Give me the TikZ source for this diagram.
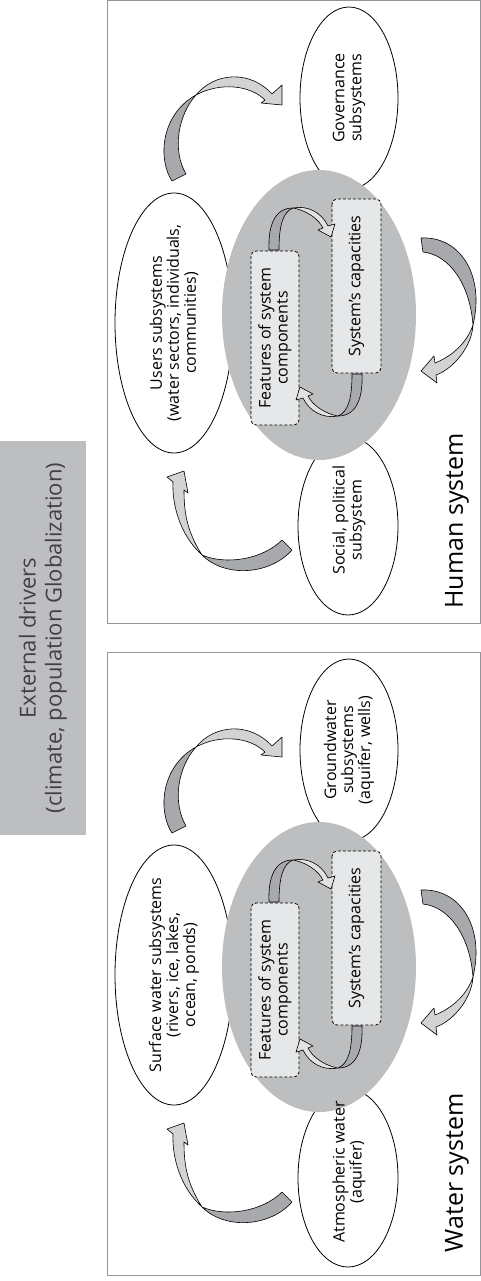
\documentclass[tikz,border=0pt]{standalone}
\usepackage{fontspec}
\setmainfont{Open Sans}
\usetikzlibrary{shapes.geometric}

\definecolor{hubgray}{HTML}{BCBEC0}
\definecolor{boxfill}{HTML}{E6E7E8}
\definecolor{ribbondark}{HTML}{A7A9AC}
\definecolor{ribbonlight}{HTML}{D1D3D4}
\definecolor{ribbonpale}{HTML}{E1E2E3}
\definecolor{framegray}{HTML}{939598}
\definecolor{drivertext}{HTML}{414143}

\tikzset{
  subsys/.style={ellipse, draw=black, fill=white, line width=0.8pt, inner sep=0pt, rotate=90},
  subtext/.style={rotate=90, align=center, inner sep=0pt, font=\fontsize{16}{17}\selectfont},
  hub/.style={ellipse, fill=hubgray, inner sep=0pt, rotate=90},
  featbox/.style={rectangle, rounded corners=5pt, draw=black, densely dashed, line width=0.8pt,
    fill=boxfill, inner sep=0pt, rotate=90, align=center, minimum width=174pt,
    font=\fontsize{16}{17}\selectfont},
  ribbon/.style={draw=black, line width=0.6pt, line join=round},
  frame/.style={draw=framegray, line width=1pt},
  syslabel/.style={rotate=90, inner sep=0pt, font=\fontsize{25}{28}\selectfont},
}

% One framed system: #1 name prefix, #2 vertical offset,
% #3 top, #4 middle, #5 bottom subsystem texts, #6 system name
\newcommand\systemblock[6]{%
\begin{scope}[shift={(0,#2)}]
  \draw[frame] (107,0.5) rectangle (480,623.5);
  % subsystems
  \node[subsys, minimum width=182pt, minimum height=98pt] (#1-top) at (349,98) {};
  \node[subsys, minimum width=260pt, minimum height=118pt] (#1-mid) at (174,323) {};
  \node[subsys, minimum width=178pt, minimum height=100pt] (#1-bot) at (348,526) {};
  % central hub
  \node[hub, minimum width=290pt, minimum height=194pt] (#1-hub) at (319,315) {};
  % subsystem texts, set over the hub
  \node[subtext] at (#1-top) {#3};
  \node[subtext] at (#1-mid) {#4};
  \node[subtext] at (349,520) {#5};
  \node[featbox, minimum height=48pt] (#1-feat) at (275,338) {Features of system\\components};
  \node[featbox, minimum height=49pt] (#1-cap) at (356.5,286) {System's capacities};
  % small ribbons between the two boxes
  \filldraw[ribbon, fill=ribbondark] (269,250) .. controls (268,225) and (275,208) .. (293,208)
     .. controls (283,212) and (279,225) .. (279,250) -- cycle;
  \filldraw[ribbon, fill=ribbonpale] (293,208) .. controls (308,205) and (322,213) .. (328,226)
     -- (335,224) -- (331,237) -- (318,230) -- (323,228)
     .. controls (318,218) and (305,210) .. (293,208) -- cycle;
  \begin{scope}[rotate around={180:(315.5,312)}]
    \filldraw[ribbon, fill=ribbondark] (269,250) .. controls (268,225) and (275,208) .. (293,208)
       .. controls (283,212) and (279,225) .. (279,250) -- cycle;
    \filldraw[ribbon, fill=ribbonpale] (293,208) .. controls (308,205) and (322,213) .. (328,226)
       -- (335,224) -- (331,237) -- (318,230) -- (323,228)
       .. controls (318,218) and (305,210) .. (293,208) -- cycle;
  \end{scope}
  % middle subsystem to top subsystem
  \filldraw[ribbon, fill=ribbondark] (172,181) .. controls (158,160) and (160,115) .. (196,95)
     .. controls (178,115) and (172,150) .. (186,174) -- cycle;
  \filldraw[ribbon, fill=ribbonlight] (196,95) .. controls (215,72) and (250,70) .. (272,94)
     -- (282,85) -- (282,105) -- (261,103) -- (265,100)
     .. controls (250,85) and (220,82) .. (196,95) -- cycle;
  % top subsystem side to bottom subsystem side
  \filldraw[ribbon, fill=ribbondark] (421,238) .. controls (460,236) and (485,275) .. (473,325)
     .. controls (470,285) and (450,255) .. (423,252) -- cycle;
  \filldraw[ribbon, fill=ribbonlight] (473,325) .. controls (472,345) and (455,368) .. (436,375)
     -- (437,383) -- (421,371) -- (434,356) -- (435,363)
     .. controls (450,357) and (466,345) .. (473,325) -- cycle;
  % bottom subsystem to middle subsystem
  \filldraw[ribbon, fill=ribbondark] (282,540) -- (292,550) .. controls (270,575) and (225,578) .. (202,555)
     .. controls (225,565) and (262,560) .. (282,540) -- cycle;
  \filldraw[ribbon, fill=ribbonlight] (202,555) .. controls (180,535) and (172,505) .. (173,482)
     -- (167,477) -- (184,471) -- (188,493) -- (184,490)
     .. controls (184,510) and (186,530) .. (202,555) -- cycle;
  % system name
  \node[syslabel] (#1-name) at (457,521) {#6};
\end{scope}}

\begin{document}
\begin{tikzpicture}[x=1pt, y=-1pt]
  \useasboundingbox (0,0) rectangle (481,1281);
  \node[fill=hubgray, rotate=90, inner sep=0pt, minimum width=394pt, minimum height=86pt,
        text=drivertext, align=center, font=\fontsize{22}{26}\selectfont]
        (drivers) at (43,638) {External drivers\\(climate, population Globalization)};
  \systemblock{h}{0}{Governance\\subsystems}%
    {Users subsystems\\(water sectors, individuals,\\communities)}%
    {Social, political\\subsystem}{Human system}
  \systemblock{w}{652}{Groundwater\\subsystems\\(aquifer, wells)}%
    {Surface water subsystems\\(rivers, ice, lakes,\\ocean, ponds)}%
    {Atmospheric water\\(aquifer)}{Water system}
\end{tikzpicture}
\end{document}
